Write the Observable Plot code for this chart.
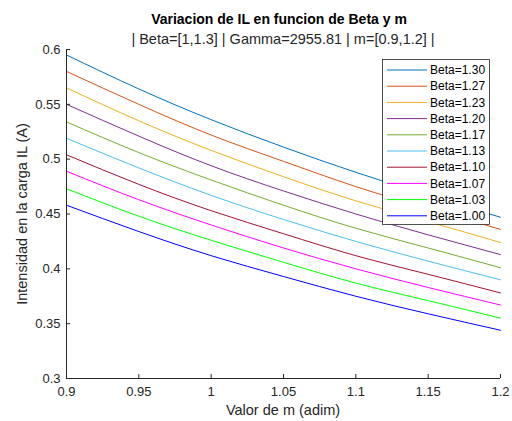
<!DOCTYPE html>
<html><head><meta charset="utf-8">
<script src="https://cdn.jsdelivr.net/npm/d3@7"></script>
<script src="https://cdn.jsdelivr.net/npm/@observablehq/plot@0.6"></script>
<style>body{margin:0;background:#fff}#chart{position:relative;width:512px;height:421px}</style>
</head><body><div id="chart"></div>
<script>
const titleText = "Variacion de IL en funcion de Beta y m";
const subtitleText = "| Beta=[1,1.3] | Gamma=2955.81 | m=[0.9,1.2] |";
const xLabel = "Valor de m (adim)";
const yLabel = "Intensidad en la carga IL (A)";

const mValues = [0.9, 0.95, 1.0, 1.05, 1.1, 1.15, 1.2];
const betaLabels = ["Beta=1.30","Beta=1.27","Beta=1.23","Beta=1.20","Beta=1.17","Beta=1.13","Beta=1.10","Beta=1.07","Beta=1.03","Beta=1.00"];
const colors = ["#0072BD","#D95319","#EDB120","#7E2F8E","#77AC30","#4DBEEE","#A2142F","#FF00FF","#00FF00","#0000FF"];

const il130 = [0.595, 0.564, 0.536, 0.511, 0.488, 0.467, 0.447];
const il127 = [0.580, 0.550, 0.522, 0.498, 0.475, 0.455, 0.436];
const il123 = [0.565, 0.535, 0.508, 0.484, 0.462, 0.443, 0.424];
const il120 = [0.550, 0.521, 0.494, 0.471, 0.450, 0.431, 0.413];
const il117 = [0.534, 0.506, 0.481, 0.458, 0.437, 0.419, 0.401];
const il113 = [0.519, 0.492, 0.467, 0.445, 0.425, 0.407, 0.390];
const il110 = [0.504, 0.477, 0.453, 0.432, 0.412, 0.395, 0.378];
const il107 = [0.489, 0.463, 0.440, 0.419, 0.400, 0.383, 0.367];
const il103 = [0.473, 0.448, 0.426, 0.406, 0.387, 0.371, 0.355];
const il100 = [0.458, 0.434, 0.412, 0.393, 0.375, 0.359, 0.344];
const seriesValues = [il130, il127, il123, il120, il117, il113, il110, il107, il103, il100];

const xTicks = [0.9, 0.95, 1, 1.05, 1.1, 1.15, 1.2];
const yTicks = [0.3, 0.35, 0.4, 0.45, 0.5, 0.55, 0.6];

const rows = [];
seriesValues.forEach((vals, i) => vals.forEach((v, j) => rows.push({beta: betaLabels[i], m: mValues[j], il: v})));

const ink = "#262626";
const fmt = d => String(+d.toFixed(2));

const plot = Plot.plot({
  width: 512, height: 421,
  marginLeft: 66, marginRight: 12, marginTop: 49, marginBottom: 43,
  style: {fontFamily: "'Liberation Sans', Arial, sans-serif", background: "white", overflow: "visible"},
  x: {domain: [0.9, 1.2]},
  y: {domain: [0.3, 0.6]},
  color: {domain: betaLabels, range: colors},
  marks: [
    Plot.line(rows, {x: "m", y: "il", z: "beta", stroke: "beta", strokeWidth: 1, curve: "natural"}),
    Plot.ruleY([0.3], {stroke: ink, strokeWidth: 1}),
    Plot.ruleX([0.9], {stroke: ink, strokeWidth: 1}),
    Plot.ruleX(xTicks, {x: d => d, y1: 0.3, y2: 0.3 + 0.0036, stroke: ink}),
    Plot.ruleY(yTicks, {y: d => d, x1: 0.9, x2: 0.9 + 0.0028, stroke: ink}),
    Plot.axisX({ticks: xTicks, tickSize: 0, tickPadding: 8, tickFormat: fmt, fontSize: 13, color: ink, label: null}),
    Plot.axisY({ticks: yTicks, tickSize: 0, tickPadding: 6, tickFormat: fmt, fontSize: 13, color: ink, label: null})
  ]
});
document.getElementById("chart").appendChild(plot);

const svg = d3.select(plot);
svg.append("text").attr("x", 279).attr("y", 24).attr("text-anchor", "middle")
  .attr("font-size", 14).attr("font-weight", "bold").attr("fill", "black").text(titleText);
svg.append("text").attr("x", 283).attr("y", 44).attr("text-anchor", "middle")
  .attr("font-size", 14.5).attr("fill", ink).text(subtitleText);
svg.append("text").attr("x", 283).attr("y", 415).attr("text-anchor", "middle")
  .attr("font-size", 14.5).attr("fill", ink).text(xLabel);
svg.append("text").attr("transform", "translate(27,214) rotate(-90)").attr("text-anchor", "middle")
  .attr("font-size", 14.5).attr("fill", ink).text(yLabel);

const leg = svg.append("g");
leg.append("rect").attr("x", 382.5).attr("y", 59.5).attr("width", 107).attr("height", 165)
  .attr("fill", "white").attr("stroke", ink).attr("stroke-width", 0.8);
betaLabels.forEach((lab, i) => {
  const y = 70 + i * 16.2;
  leg.append("line").attr("x1", 387).attr("x2", 427).attr("y1", y).attr("y2", y)
    .attr("stroke", colors[i]).attr("stroke-width", 1);
  leg.append("text").attr("x", 430).attr("y", y).attr("dy", "0.35em").attr("text-anchor", "start")
    .attr("font-size", 12).attr("fill", "black").text(lab);
});
</script></body></html>
